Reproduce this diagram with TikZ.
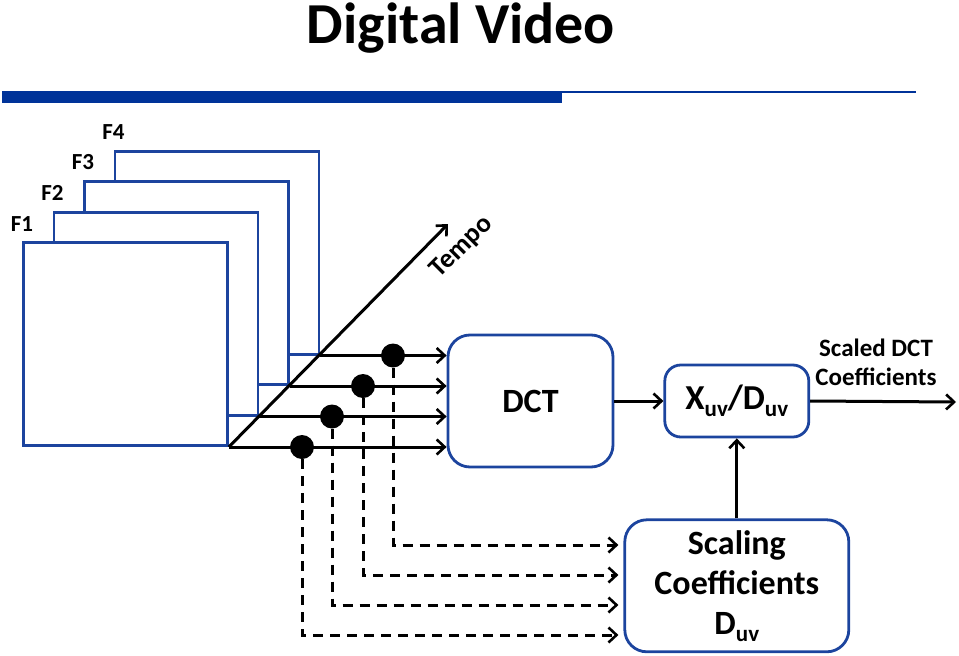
\documentclass[tikz,border=0pt]{standalone}
\usepackage{fontspec}
\setmainfont{Carlito}
\usetikzlibrary{positioning,arrows.meta}

\definecolor{barblue}{RGB}{0,51,153}
\definecolor{frameblue}{RGB}{28,68,158}
\newcommand{\lowsub}[1]{\raisebox{-0.2em}{\fontsize{23}{25}\selectfont #1}}

\tikzset{
  frame/.style={draw=frameblue, line width=2.8pt, fill=white, anchor=south west,
    minimum width=204pt, minimum height=203pt, inner sep=0pt},
  flabel/.style={font=\bfseries\fontsize{23}{25}\selectfont, inner sep=0pt},
  block/.style={draw=frameblue, line width=2.8pt, rounded corners=22pt, align=center,
    font=\bfseries\fontsize{34}{40}\selectfont},
  dot/.style={circle, fill=black, minimum size=24pt, inner sep=0pt},
  sig/.style={line width=3pt, -{Straight Barb[length=8pt,width=15pt,line width=2.6pt]}},
  dsig/.style={sig, dash pattern=on 10pt off 7pt, shorten >=5pt},
}

\begin{document}
\begin{tikzpicture}[x=1pt,y=-1pt]
		\useasboundingbox (0,0) rectangle (959,656);
		% title and bar
		\node[font=\bfseries\fontsize{58}{60}\selectfont, anchor=base] (title) at (461,43) {Digital Video};
		\fill[barblue] (2,91) rectangle (562,103);
		\draw[barblue, line width=2pt] (562,92) -- (916,92);
		% frames, back to front
		\node[frame] (f4) at (113.5,355.5) {};
		\node[frame] (f3) at (83,386) {};
		\node[frame] (f2) at (52.5,416.5) {};
		\node[frame] (f1) at (22,447) {};
		\node[flabel, above=10pt of f1.north west] (l1) {F1};
		\node[flabel, above=10pt of f2.north west] (l2) {F2};
		\node[flabel, above=10pt of f3.north west] (l3) {F3};
		\node[flabel, above=10pt of f4.north west] (l4) {F4};
		% time axis
		\coordinate (tip) at (448,224);
		\draw[sig] (f1.south east) -- (tip);
		\node[font=\bfseries\fontsize{27}{29}\selectfont, inner sep=0pt, rotate=45] (tempo) at (462,247) {Tempo};
		% blocks
		\node[block, minimum width=165pt, minimum height=132pt] (dct) at (530.5,401) {DCT};
		\node[block, minimum width=144pt, minimum height=72pt, rounded corners=16pt,
		  font=\bfseries\fontsize{35}{40}\selectfont, right=49pt of dct] (xbox) {X\lowsub{uv}/D\lowsub{uv}};
		\node[block, minimum width=224pt, minimum height=132pt, below=80pt of xbox] (scal)
		  {Scaling\\Coefficients\\D\lowsub{uv}};
		% frames into DCT
		\foreach \i in {1,2,3,4}
		\draw[sig] (f\i.south east) -- (f\i.south east -| dct.west);
		\draw[sig] (dct.east |- xbox.west) -- (xbox.west);
		\draw[sig] (scal) -- (xbox);
		\coordinate (out) at (956,402);
		\draw[sig] (xbox.east) -- (out);
		\node[font=\bfseries\fontsize{25}{29}\selectfont, align=center, anchor=south, inner sep=0pt] (olab) at (876,386)
		  {Scaled DCT\\Coefficients};
		% taps to the scaling block
		\foreach \i/\x/\y in {1/302/635, 2/332/605, 3/363/575, 4/393/545}{
		\node[dot] (d\i) at (f\i.south east -| \x,0) {};
		\draw[dsig] (d\i.south) |- (scal.west |- 0,\y);
		}
\end{tikzpicture}
\end{document}
